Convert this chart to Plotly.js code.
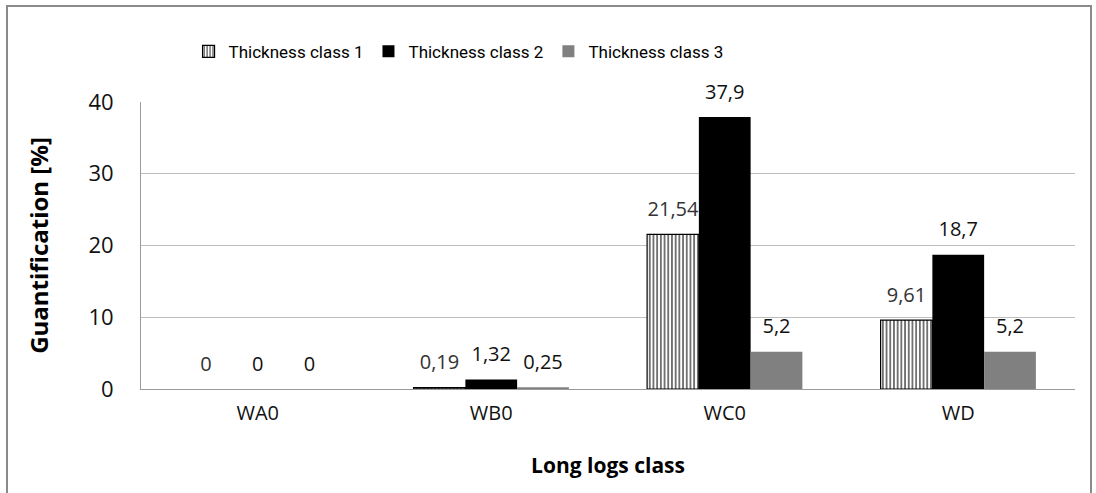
<!DOCTYPE html>
<html>
<head>
<meta charset="utf-8">
<script src="https://cdn.plot.ly/plotly-3.0.1.min.js"></script>
<style>
  html, body { margin: 0; padding: 0; background: #ffffff; }
  #frame { position: absolute; left: 6px; top: 5px; width: 1086px; height: 520px;
           border: 2px solid #8a8a8a; box-sizing: border-box; }
  #chart { position: absolute; left: 0; top: 0; width: 1096px; height: 493px; }
</style>
</head>
<body>
<div id="frame"></div>
<div id="chart"></div>
<script>
// Long logs classes on the x axis
const categories = ['WA0', 'WB0', 'WC0', 'WD'];

// Quantification [%] per thickness class
const class1 = [0, 0.19, 21.54, 9.61];
const class2 = [0, 1.32, 37.9, 18.7];
const class3 = [0, 0.25, 5.2, 5.2];

const seriesNames = ['Thickness class 1', 'Thickness class 2', 'Thickness class 3'];
const yTicks = [0, 10, 20, 30, 40];

const FONT = 'Open Sans, Noto Sans, sans-serif';
const LEGEND_FONT = 'Roboto, sans-serif';
const GAP = 0.335;

// decimal comma labels
const fmt = v => String(v).replace('.', ',');

const seriesValues = [class1, class2, class3];
const hatch = { shape: '|', fgcolor: '#000000', bgcolor: '#ffffff', size: 3.7, solidity: 0.28 };
// empty (zero) bars get no outline
const outline = vals => vals.map(v => (v > 0 ? 1.2 : 0));
const markers = [
  { color: '#ffffff', line: { color: '#000000', width: outline(class1) }, pattern: hatch },
  { color: '#000000', line: { color: '#000000', width: 0 } },
  { color: '#808080', line: { color: '#808080', width: 0 } }
];
const labelColors = ['#333333', '#111111', '#111111'];

const traces = [];
seriesValues.forEach((vals, i) => {
  traces.push({
    type: 'bar',
    name: seriesNames[i],
    x: categories,
    y: vals,
    offsetgroup: 'g' + i,
    marker: markers[i],
    showlegend: i !== 0,
    legendrank: i + 1,
    hoverinfo: 'x+y+name'
  });
});
// legend key for the hatched series (keeps its outline in the legend)
traces.push({
  type: 'bar',
  name: seriesNames[0],
  x: [categories[0]],
  y: [null],
  offsetgroup: 'g0',
  marker: { color: '#ffffff', line: { color: '#000000', width: 1.2 }, pattern: hatch },
  showlegend: true,
  legendrank: 1,
  hoverinfo: 'skip'
});
// value labels sitting above each bar
seriesValues.forEach((vals, i) => {
  traces.push({
    type: 'scatter',
    mode: 'markers+text',
    x: categories,
    y: vals,
    offsetgroup: 'g' + i,
    text: vals.map(fmt),
    textposition: 'top center',
    textfont: { family: FONT, size: 20, color: labelColors[i] },
    marker: { size: 20, opacity: 0 },
    showlegend: false,
    hoverinfo: 'skip',
    cliponaxis: false
  });
});

const layout = {
  width: 1096,
  height: 493,
  margin: { l: 141, r: 21, t: 102, b: 104 },
  paper_bgcolor: 'rgba(0,0,0,0)',
  plot_bgcolor: 'rgba(0,0,0,0)',
  font: { family: FONT, color: '#000000' },
  barmode: 'group',
  bargap: GAP,
  bargroupgap: 0,
  scattermode: 'group',
  scattergap: GAP,
  showlegend: true,
  legend: {
    orientation: 'h',
    x: 0.34, xanchor: 'center',
    y: 1.175, yanchor: 'middle',
    font: { family: LEGEND_FONT, size: 17, color: '#000000' },
    traceorder: 'normal'
  },
  xaxis: {
    type: 'category',
    tickfont: { family: FONT, size: 20, color: '#111111' },
    ticklabelstandoff: 6,
    showline: true, linecolor: '#9a9a9a', linewidth: 1,
    showgrid: false, zeroline: false,
    ticks: '',
    title: { text: 'Long logs class', font: { family: FONT, size: 21, weight: 'bold', color: '#000000' }, standoff: 33 },
    automargin: false
  },
  yaxis: {
    range: [0, 40],
    tickvals: yTicks,
    ticktext: yTicks.map(String),
    tickfont: { family: FONT, size: 22, color: '#111111' },
    ticklabelstandoff: 22,
    showline: true, linecolor: '#9a9a9a', linewidth: 1,
    showgrid: true, gridcolor: '#bdbdbd', gridwidth: 1,
    zeroline: false,
    ticks: '',
    title: { text: 'Guantification [%]', font: { family: FONT, size: 24, weight: 'bold', color: '#000000' }, standoff: 33 },
    automargin: false
  },
  hovermode: 'closest'
};

Plotly.newPlot('chart', traces, layout, { displayModeBar: false, staticPlot: true });
</script>
</body>
</html>
